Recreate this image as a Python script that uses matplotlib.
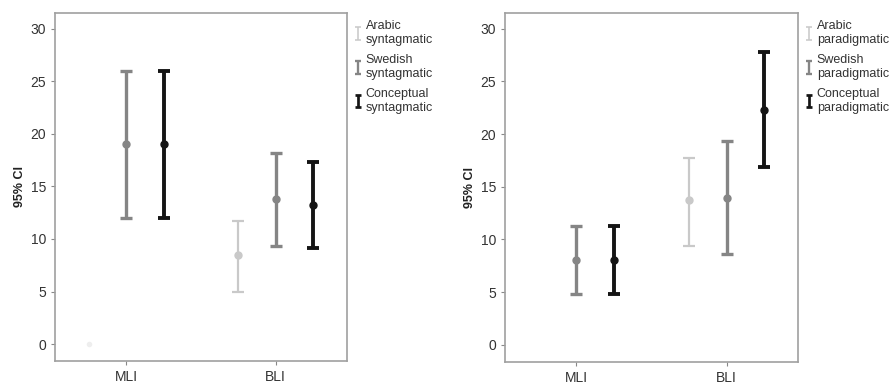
import numpy as np
import matplotlib
matplotlib.use('Agg')
import matplotlib.pyplot as plt

plt.rcParams['font.family'] = ['Liberation Sans', 'DejaVu Sans']

groups = ['MLI', 'BLI']
series = ['Arabic', 'Swedish', 'Conceptual']

# left panel: syntagmatic (mean, lower, upper)
syn_mean = {'Arabic': [0.0, 8.5], 'Swedish': [19.0, 13.8], 'Conceptual': [19.0, 13.2]}
syn_low = {'Arabic': [0.0, 5.0], 'Swedish': [12.0, 9.3], 'Conceptual': [12.0, 9.1]}
syn_high = {'Arabic': [0.0, 11.75], 'Swedish': [26.0, 18.2], 'Conceptual': [26.0, 17.3]}

# right panel: paradigmatic
par_mean = {'Arabic': [np.nan, 13.7], 'Swedish': [8.1, 13.95], 'Conceptual': [8.1, 22.3]}
par_low = {'Arabic': [np.nan, 9.4], 'Swedish': [4.8, 8.6], 'Conceptual': [4.8, 16.9]}
par_high = {'Arabic': [np.nan, 17.7], 'Swedish': [11.3, 19.35], 'Conceptual': [11.3, 27.8]}

colors = {'Arabic': '#c9c9c9', 'Swedish': '#858585', 'Conceptual': '#151515'}
widths = {'Arabic': 1.6, 'Swedish': 2.4, 'Conceptual': 2.8}
offsets = {'Arabic': -0.25, 'Swedish': 0.0, 'Conceptual': 0.25}

fig = plt.figure(figsize=(8.94, 3.89), dpi=100)
ax1 = fig.add_axes([0.0615, 0.072, 0.3265, 0.895])
ax2 = fig.add_axes([0.565, 0.070, 0.3276, 0.897])


def draw(ax, means, lows, highs, suffix):
    x = np.arange(len(groups))
    handles = []
    for s in series:
        m = np.array(means[s])
        lo = np.array(lows[s])
        hi = np.array(highs[s])
        c = colors[s]
        if s == 'Arabic' and suffix == 'syntagmatic':
            # the MLI arabic value is a barely visible point at zero
            ax.plot(x[0] + offsets[s], m[0], 'o', color='#eeeeee', ms=3, zorder=1)
            m = m.copy(); m[0] = np.nan
        ax.errorbar(x + offsets[s], m, yerr=[m - lo, hi - m], fmt='o', color=c,
                    ecolor=c, elinewidth=widths[s], capsize=4.5, capthick=widths[s],
                    ms=5, zorder=3)
        h = ax.errorbar([np.nan], [np.nan], yerr=[[0], [0]], fmt='none', ecolor=c,
                        elinewidth=widths[s] * 0.7, capsize=2, capthick=widths[s] * 0.7)
        handles.append(h)
    labels = [f'{s}\n{suffix}' for s in series]
    ax.legend(handles, labels, loc='upper left', bbox_to_anchor=(1.0, 1.0),
              frameon=False, fontsize=9, handlelength=0.6, handletextpad=0.3,
              labelspacing=0.65, borderaxespad=0.4, borderpad=0.2,
              labelcolor='#333333')
    ax.set_xlim(-0.475, 1.475)
    ax.set_ylim(-1.6, 31.5)
    ax.set_xticks(x)
    ax.set_xticklabels(groups, fontsize=10, color='#333333')
    ax.set_yticks([0, 5, 10, 15, 20, 25, 30])
    ax.tick_params(axis='both', colors='#888888', labelcolor='#333333',
                   length=3, width=0.8, labelsize=10)
    ax.set_ylabel('95% CI', fontsize=9, fontweight='bold', color='#222222', labelpad=3)
    for sp in ax.spines.values():
        sp.set_color('#a0a0a0')
        sp.set_linewidth(1.2)


draw(ax1, syn_mean, syn_low, syn_high, 'syntagmatic')
draw(ax2, par_mean, par_low, par_high, 'paradigmatic')

fig.savefig('out.png', dpi=100, facecolor='white')
